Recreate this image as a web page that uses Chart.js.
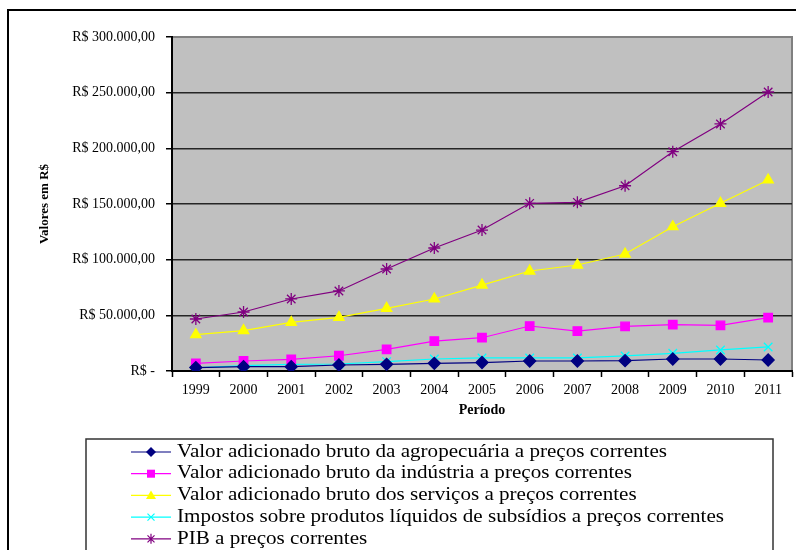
<!DOCTYPE html>
<html lang="pt">
<head>
    <meta charset="UTF-8">
    <title>Valores em R$ por período</title>
    <script src="https://cdn.jsdelivr.net/npm/chart.js"></script>
    <style>
        body { margin: 0; background: #fff; }
        #wrap { width: 796px; height: 550px; }
    </style>
</head>
<body>
    <div id="wrap"><canvas id="pibChart" width="796" height="550"></canvas></div>

    <script>
        const years = ['1999', '2000', '2001', '2002', '2003', '2004', '2005', '2006', '2007', '2008', '2009', '2010', '2011'];
        const agro = [3100, 3900, 3900, 5400, 6000, 6900, 7600, 9000, 9000, 9300, 10800, 10800, 9900];
        const industria = [6900, 9000, 10500, 13700, 19500, 26900, 29900, 40400, 35900, 40000, 41600, 40900, 47900];
        const servicos = [32600, 36300, 43600, 48100, 56300, 64700, 77200, 89800, 95200, 105100, 129600, 150600, 171600];
        const impostos = [2900, 4800, 6000, 6300, 8400, 10800, 11700, 11700, 11700, 13500, 15900, 18900, 21600];
        const pib = [46700, 53000, 64700, 71900, 91600, 110500, 126600, 150600, 151500, 166400, 197000, 221900, 250600];

        const seriesNames = [
            'Valor adicionado bruto da agropecuária a preços correntes',
            'Valor adicionado bruto da indústria a preços correntes',
            'Valor adicionado bruto dos serviços a preços correntes',
            'Impostos sobre produtos líquidos de subsídios a preços correntes',
            'PIB a preços correntes'
        ];

        const serif = '"Liberation Serif", "Times New Roman", serif';

        function formatReais(v) {
            if (v === 0) return 'R$ -';
            return 'R$ ' + v.toString().replace(/\B(?=(\d{3})+(?!\d))/g, '.') + ',00';
        }

        // small marker painter, used for the legend samples
        function drawMarker(ctx, style, x, y, r, color) {
            ctx.save();
            ctx.fillStyle = color;
            ctx.strokeStyle = color;
            ctx.lineWidth = 1.2;
            ctx.beginPath();
            if (style === 'rectRot') {
                ctx.moveTo(x, y - r); ctx.lineTo(x + r, y); ctx.lineTo(x, y + r); ctx.lineTo(x - r, y);
                ctx.closePath(); ctx.fill();
            } else if (style === 'rect') {
                ctx.fillRect(x - r * 0.8, y - r * 0.8, r * 1.6, r * 1.6);
            } else if (style === 'triangle') {
                ctx.moveTo(x, y - r); ctx.lineTo(x + r, y + r * 0.7); ctx.lineTo(x - r, y + r * 0.7);
                ctx.closePath(); ctx.fill();
            } else if (style === 'crossRot') {
                ctx.moveTo(x - r * 0.7, y - r * 0.7); ctx.lineTo(x + r * 0.7, y + r * 0.7);
                ctx.moveTo(x + r * 0.7, y - r * 0.7); ctx.lineTo(x - r * 0.7, y + r * 0.7);
                ctx.stroke();
            } else if (style === 'star') {
                ctx.moveTo(x - r * 0.7, y - r * 0.7); ctx.lineTo(x + r * 0.7, y + r * 0.7);
                ctx.moveTo(x + r * 0.7, y - r * 0.7); ctx.lineTo(x - r * 0.7, y + r * 0.7);
                ctx.moveTo(x, y - r); ctx.lineTo(x, y + r);
                ctx.stroke();
            }
            ctx.restore();
        }

        const frameAndBoxes = {
            id: 'frameAndBoxes',
            beforeDraw(chart) {
                const ctx = chart.ctx;
                const a = chart.chartArea;
                ctx.save();
                ctx.fillStyle = '#ffffff';
                ctx.fillRect(0, 0, chart.width, chart.height);
                // outer frame
                ctx.strokeStyle = '#000';
                ctx.lineWidth = 2;
                ctx.strokeRect(8, 10, chart.width + 20, chart.height + 20);
                // plot background
                ctx.fillStyle = '#c0c0c0';
                ctx.fillRect(a.left, a.top, a.right - a.left, a.bottom - a.top);
                ctx.strokeStyle = '#808080';
                ctx.lineWidth = 2;
                ctx.beginPath();
                ctx.moveTo(a.left, a.top);
                ctx.lineTo(a.right, a.top);
                ctx.lineTo(a.right, a.bottom);
                ctx.stroke();
                ctx.restore();
            },
            afterDraw(chart) {
                const ctx = chart.ctx;
                ctx.save();
                // legend box
                ctx.strokeStyle = '#333';
                ctx.lineWidth = 1.5;
                ctx.strokeRect(86, 439, 687, 140);
                ctx.font = '18px ' + serif;
                ctx.textBaseline = 'middle';
                // the original legend text is drawn a little wider than normal
                const stretch = 490 / ctx.measureText(chart.data.datasets[0].label).width;
                chart.data.datasets.forEach((ds, i) => {
                    const y = 452 + i * 21.7;
                    ctx.strokeStyle = ds.borderColor;
                    ctx.lineWidth = 1.2;
                    ctx.beginPath();
                    ctx.moveTo(131, y);
                    ctx.lineTo(171, y);
                    ctx.stroke();
                    drawMarker(ctx, ds.pointStyle, 151, y, 5, ds.borderColor);
                    ctx.save();
                    ctx.translate(177, y);
                    ctx.scale(stretch, 1);
                    ctx.fillStyle = '#000';
                    ctx.fillText(ds.label, 0, 0);
                    ctx.restore();
                });
                ctx.restore();
            }
        };

        function makeSet(label, data, color, style, radius) {
            return {
                label: label,
                data: data,
                borderColor: color,
                backgroundColor: color,
                borderWidth: 1.2,
                pointStyle: style,
                pointRadius: radius,
                pointHoverRadius: radius,
                pointBorderWidth: 1.3,
                tension: 0
            };
        }

        new Chart(document.getElementById('pibChart').getContext('2d'), {
            type: 'line',
            data: {
                labels: years,
                datasets: [
                    makeSet(seriesNames[0], agro, '#000080', 'rectRot', 6),
                    makeSet(seriesNames[1], industria, '#ff00ff', 'rect', 6),
                    makeSet(seriesNames[2], servicos, '#ffff00', 'triangle', 6),
                    makeSet(seriesNames[3], impostos, '#00ffff', 'crossRot', 6),
                    makeSet(seriesNames[4], pib, '#800080', 'star', 6)
                ]
            },
            options: {
                responsive: false,
                animation: false,
                layout: {
                    autoPadding: false,
                    padding: { top: 37, right: 4, left: 8, bottom: 129 }
                },
                plugins: {
                    legend: { display: false },
                    title: { display: false },
                    tooltip: { enabled: false }
                },
                scales: {
                    x: {
                        offset: true,
                        afterFit: s => { s.height = 50; },
                        grid: {
                            offset: true,
                            drawOnChartArea: false,
                            drawTicks: true,
                            tickLength: 6,
                            tickColor: '#000',
                            tickWidth: 1.5
                        },
                        border: { color: '#000', width: 2 },
                        ticks: {
                            color: '#000',
                            padding: 5,
                            maxRotation: 0,
                            font: { family: serif, size: 14 }
                        },
                        title: {
                            display: true,
                            text: 'Período',
                            color: '#000',
                            padding: { top: 0, bottom: 2 },
                            font: { family: serif, size: 14, weight: 'bold' }
                        }
                    },
                    y: {
                        min: 0,
                        max: 300000,
                        afterFit: s => { s.width = 164; },
                        grid: {
                            color: c => (c.tick && c.tick.value === 300000) ? '#808080' : '#252525',
                            lineWidth: 1.5,
                            drawTicks: true,
                            tickLength: 6,
                            tickColor: '#000',
                            tickWidth: 1.5
                        },
                        border: { color: '#000', width: 2 },
                        ticks: {
                            stepSize: 50000,
                            color: '#000',
                            padding: 11,
                            font: { family: serif, size: 14 },
                            callback: v => formatReais(v)
                        },
                        title: {
                            display: true,
                            text: 'Valores em R$',
                            color: '#000',
                            padding: { top: 29, bottom: 0 },
                            font: { family: serif, size: 13, weight: 'bold' }
                        }
                    }
                }
            },
            plugins: [frameAndBoxes]
        });
    </script>
</body>
</html>
